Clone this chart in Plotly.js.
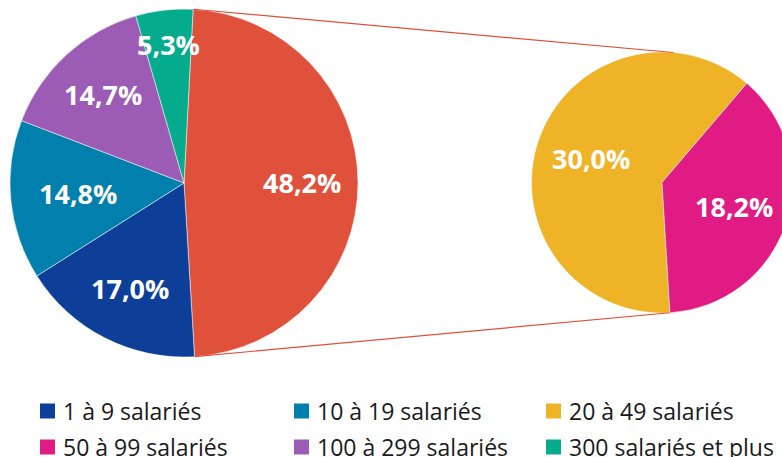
<!DOCTYPE html>
<html>
<head>
<meta charset="utf-8">
<script src="https://cdn.plot.ly/plotly-3.0.1.min.js"></script>
<style>
  html, body { margin: 0; padding: 0; background: #fff; overflow: hidden; }
  #plot { width: 800px; height: 457px; }
</style>
</head>
<body>
<div id="plot"></div>
<script>
// ─────────────────────────────────────────────────────
// Data
// ─────────────────────────────────────────────────────
const mainLabels = ['20 à 99 salariés', '1 à 9 salariés', '10 à 19 salariés', '100 à 299 salariés', '300 salariés et plus'];
const mainValues = [48.2, 17.0, 14.8, 14.7, 5.3];
const mainColors = ['#E0513B', '#0D3F99', '#0180AD', '#9C5BB4', '#04AB8C'];

const detailLabels = ['20 à 49 salariés', '50 à 99 salariés'];
const detailValues = [30.0, 18.2];
const detailColors = ['#EFB327', '#E01B84'];

const legendLabels = ['1 à 9 salariés', '10 à 19 salariés', '20 à 49 salariés',
                      '50 à 99 salariés', '100 à 299 salariés', '300 salariés et plus'];
const legendColors = ['#0D3F99', '#0180AD', '#EFB327', '#E01B84', '#9C5BB4', '#04AB8C'];

// ─────────────────────────────────────────────────────
// Geometry (pixels)
// ─────────────────────────────────────────────────────
const W = 800, H = 457;
const mainPie = { cx: 184, cy: 183, r: 174, rotation: 3 };
const detailPie = { cx: 662, cy: 182.5, r: 130.5, rotation: 176.5 };
const mainLabelR = [0.68, 0.68, 0.61, 0.69, 0.8];
const detailLabelR = [0.57, 0.58];

const px = x => x / W;
const py = y => 1 - y / H;

function domainOf(p) {
    return { x: [px(p.cx - p.r), px(p.cx + p.r)], y: [py(p.cy + p.r), py(p.cy - p.r)] };
}

// point on a pie at a clockwise angle from 12 o'clock
function pointAt(p, deg, frac) {
    const a = deg * Math.PI / 180;
    return [p.cx + p.r * frac * Math.sin(a), p.cy - p.r * frac * Math.cos(a)];
}

function fmt(v) {
    return v.toFixed(1).replace('.', ',') + '%';
}

// labels at slice mid-angles
function sliceLabels(p, values, fracs) {
    const total = values.reduce((a, b) => a + b, 0);
    let start = p.rotation;
    return values.map((v, i) => {
        const span = 360 * v / total;
        const [x, y] = pointAt(p, start + span / 2, fracs[i]);
        start += span;
        return {
            x: px(x), y: py(y), xref: 'paper', yref: 'paper',
            text: fmt(v), showarrow: false, xanchor: 'center', yanchor: 'middle',
            font: { family: 'Open Sans, Noto Sans, sans-serif', size: 27, color: '#fff', weight: 'bold' }
        };
    });
}

const traces = [
    {
        type: 'pie', labels: mainLabels, values: mainValues, sort: false,
        direction: 'clockwise', rotation: mainPie.rotation,
        marker: { colors: mainColors, line: { color: '#fff', width: 0.5 } },
        textinfo: 'none', hoverinfo: 'skip', showlegend: false,
        domain: domainOf(mainPie)
    },
    {
        type: 'pie', labels: detailLabels, values: detailValues, sort: false,
        direction: 'clockwise', rotation: detailPie.rotation,
        marker: { colors: detailColors, line: { color: '#fff', width: 0.5 } },
        textinfo: 'none', hoverinfo: 'skip', showlegend: false,
        domain: domainOf(detailPie)
    }
];

// connector lines from the big slice to the detail pie
const mainTotal = mainValues.reduce((a, b) => a + b, 0);
const bigEnd = mainPie.rotation + 360 * mainValues[0] / mainTotal;
const connectors = [
    [pointAt(mainPie, mainPie.rotation, 1), pointAt(detailPie, 5, 1)],
    [pointAt(mainPie, bigEnd, 1), pointAt(detailPie, detailPie.rotation, 1)]
];

const shapes = connectors.map(([a, b]) => ({
    type: 'line', xref: 'paper', yref: 'paper',
    x0: px(a[0]), y0: py(a[1]), x1: px(b[0]), y1: py(b[1]),
    line: { color: mainColors[0], width: 1.2 }
}));

// legend: 3 columns, 2 rows
const colX = [40, 294, 546];
const rowY = [411, 447];
const legendAnn = [];
legendLabels.forEach((lab, i) => {
    const x = colX[i % 3], y = rowY[Math.floor(i / 3)];
    shapes.push({
        type: 'rect', xref: 'paper', yref: 'paper',
        x0: px(x), x1: px(x + 15), y0: py(y + 7.5), y1: py(y - 7.5),
        fillcolor: legendColors[i], line: { width: 0 }
    });
    legendAnn.push({
        x: px(x + 21), y: py(y), xref: 'paper', yref: 'paper',
        text: lab, showarrow: false, xanchor: 'left', yanchor: 'middle',
        font: { family: 'Open Sans, Noto Sans, sans-serif', size: 23, color: '#1a1a1a' }
    });
});

const layout = {
    width: W, height: H,
    margin: { l: 0, r: 0, t: 0, b: 0 },
    paper_bgcolor: '#fff',
    showlegend: false,
    shapes: shapes,
    annotations: [
        ...sliceLabels(mainPie, mainValues, mainLabelR),
        ...sliceLabels(detailPie, detailValues, detailLabelR),
        ...legendAnn
    ]
};

Plotly.newPlot('plot', traces, layout, { staticPlot: true, displayModeBar: false });
</script>
</body>
</html>
